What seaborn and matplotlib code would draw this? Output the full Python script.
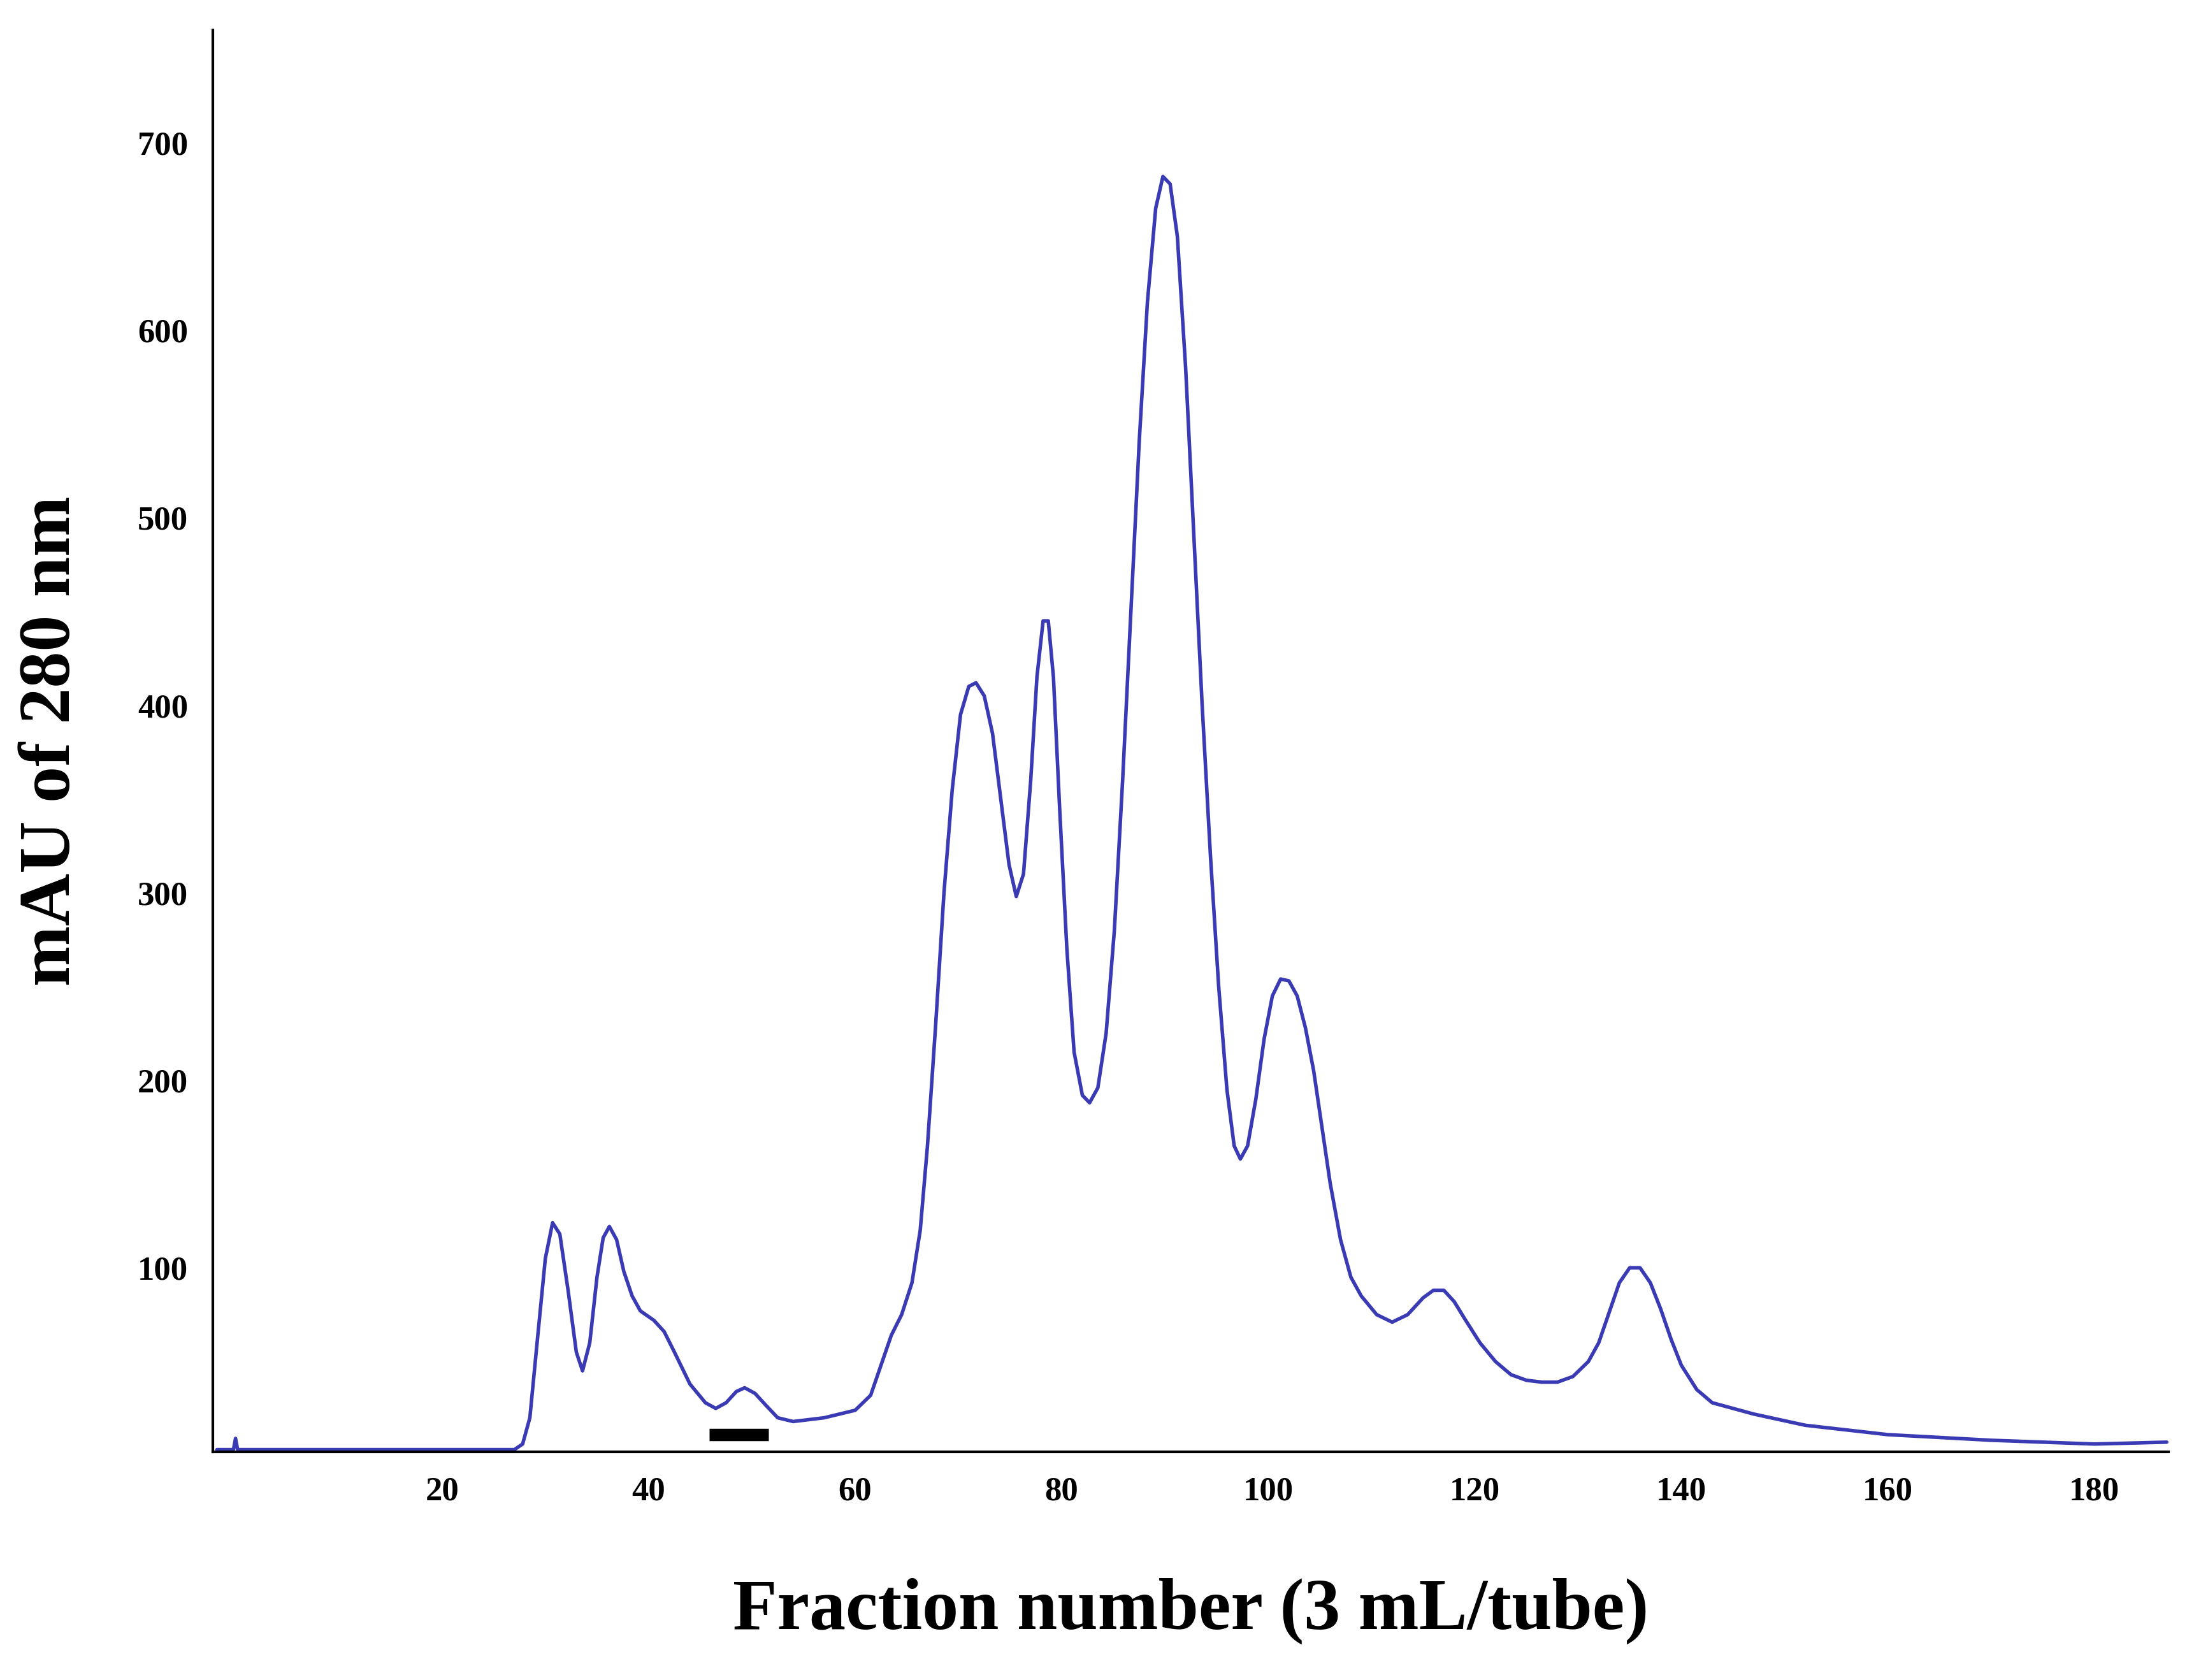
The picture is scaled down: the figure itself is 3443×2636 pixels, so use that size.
import matplotlib
matplotlib.use("Agg")
import matplotlib.pyplot as plt
import seaborn as sns
import pandas as pd

# chromatogram trace (fraction number, mAU at 280 nm)
fraction = [-1.8, -0.2, 0.0, 0.2, 27, 27.8, 28.5, 29.2, 30, 30.7, 31.4, 32.2, 33, 33.6, 34.3, 35, 35.6,
            36.2, 36.9, 37.6, 38.4, 39.2, 40.5, 41.5, 42.5, 44, 45.5, 46.5, 47.5, 48.5, 49.3, 50.3,
            51.3, 52.5, 54, 57, 60, 61.5, 62.5, 63.5, 64.5, 65.5, 66.3, 67, 67.8, 68.6, 69.4, 70.2,
            71, 71.7, 72.5, 73.3, 74.1, 74.9, 75.6, 76.3, 77, 77.6, 78.2, 78.7, 79.2, 79.8, 80.5,
            81.2, 82, 82.7, 83.5, 84.3, 85.1, 85.9, 86.7, 87.5, 88.3, 89.1, 89.8, 90.5, 91.2, 92,
            92.8, 93.6, 94.4, 95.2, 96, 96.7, 97.3, 98, 98.8, 99.6, 100.4, 101.2, 102, 102.8, 103.6,
            104.4, 105.2, 106, 107, 108, 109, 110.5, 112, 113.5, 115, 116, 117, 118, 119, 120.5,
            122, 123.5, 125, 126.5, 128, 129.5, 131, 132, 133, 134, 135, 136, 137, 138, 139, 140,
            141.5, 143, 147, 152, 160, 170, 180, 187]
mau = [3, 3, 9, 3, 3, 6, 20, 60, 105, 124, 118, 88, 55, 45, 60, 95, 116,
       122, 115, 98, 85, 77, 72, 66, 55, 38, 28, 25, 28, 34, 36, 33,
       27, 20, 18, 20, 24, 32, 48, 64, 75, 92, 120, 165, 230, 300, 355, 395,
       410, 412, 405, 385, 350, 315, 298, 310, 360, 415, 445, 445, 415, 345, 270,
       215, 192, 188, 196, 225, 280, 360, 450, 540, 615, 665, 682, 678, 650, 580,
       490, 400, 320, 250, 195, 165, 158, 165, 190, 222, 245, 254, 253, 245, 228,
       205, 175, 145, 115, 95, 85, 75, 71, 75, 84, 88, 88, 82, 73, 60,
       50, 43, 40, 39, 39, 42, 50, 60, 76, 92, 100, 100, 92, 78, 62, 48,
       35, 28, 22, 16, 11, 8, 6, 7]

# collected pool marker
pool_x = [45.9, 51.6]
pool_y = [11, 11]

x_ticks = [20, 40, 60, 80, 100, 120, 140, 160, 180]
y_ticks = [100, 200, 300, 400, 500, 600, 700]

df = pd.DataFrame({"fraction": fraction, "mAU": mau})

sns.set_style("ticks")
plt.rcParams["font.family"] = ["Liberation Serif", "DejaVu Serif"]
plt.rcParams["font.weight"] = "bold"

fig = plt.figure(figsize=(17.215, 13.18), dpi=200)
ax = fig.add_axes([0.097, 0.136, 0.8915, 0.846])

sns.lineplot(data=df, x="fraction", y="mAU", ax=ax, color="#3a3ab4", linewidth=2.0, sort=False)
ax.plot(pool_x, pool_y, color="black", linewidth=7, solid_capstyle="butt")

ax.set_xlim(-2.2, 187.2)
ax.set_ylim(2, 760)
ax.set_xticks(x_ticks)
ax.set_yticks(y_ticks)
ax.tick_params(length=0, labelsize=19, pad=14, labelcolor="black")
for lab in ax.get_xticklabels() + ax.get_yticklabels():
    lab.set_fontweight("bold")

ax.set_xlabel("Fraction number (3 mL/tube)", fontsize=41, fontweight="bold", labelpad=40, color="black")
ax.set_ylabel("mAU of 280 nm", fontsize=41, fontweight="bold", labelpad=30, color="black")
sns.despine(ax=ax)
for s in ["left", "bottom"]:
    ax.spines[s].set_linewidth(1.5)
    ax.spines[s].set_color("black")

fig.savefig("out.png", dpi=200)
